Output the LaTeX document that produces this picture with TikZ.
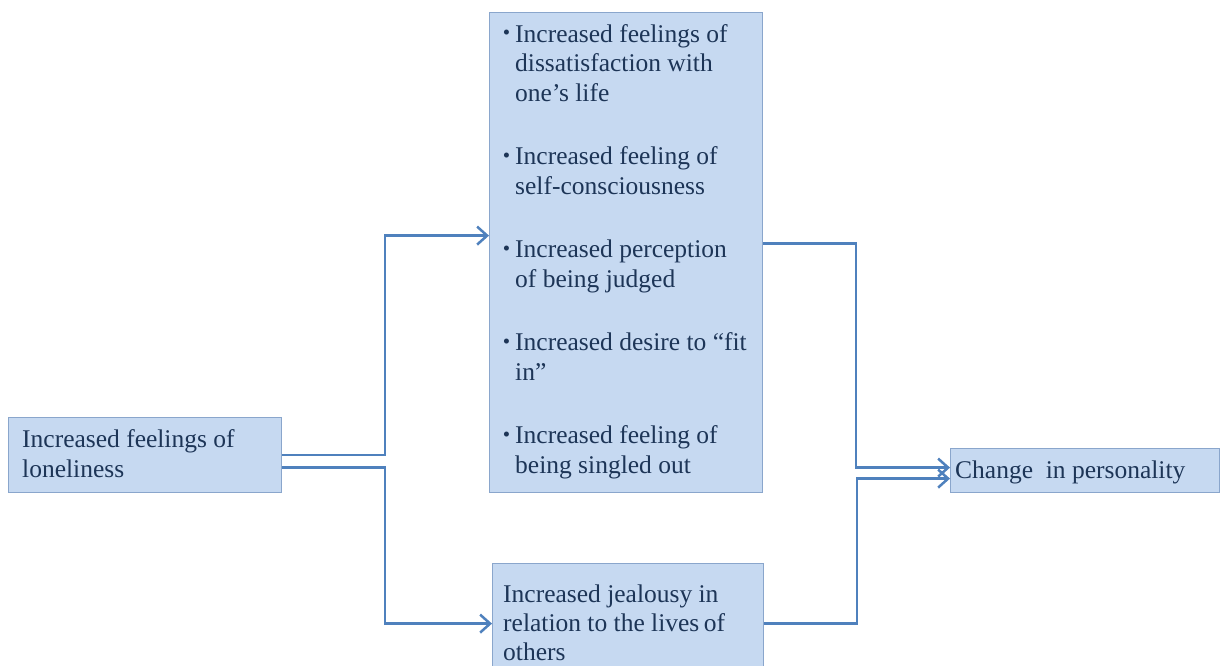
\documentclass[tikz,border=0pt]{standalone}
\usepackage{fontspec}
\setmainfont{Liberation Serif}
\usetikzlibrary{arrows.meta,calc}
\definecolor{boxfill}{HTML}{C6D9F1}
\definecolor{boxline}{HTML}{8AA6CC}
\definecolor{linkcol}{HTML}{4F81BD}
\definecolor{inkcol}{HTML}{1D3557}
\newcommand{\bul}{\leavevmode\llap{\raisebox{2.5pt}{\fontsize{21}{21}\selectfont •}\hspace{5pt}}}
\begin{document}
\begin{tikzpicture}[x=1pt,y=-1pt,
  box/.style={draw=boxline,line width=1.2pt,fill=boxfill,rectangle,inner sep=0pt,anchor=north west},
  txt/.style={inner sep=0pt,anchor=base west,text=inkcol},
  conn/.style={draw=linkcol,line width=2.5pt,-{Straight Barb[length=10pt,width=18pt,line width=2.5pt]}}]
\useasboundingbox (0,0) rectangle (1221,665);
\fill[white] (0,0) rectangle (1221,665);
\clip (0,0) rectangle (1221,665);

% boxes
\node[box,minimum width=273pt,minimum height=75pt] (lone) at (8,417) {};
\node[box,minimum width=273pt,minimum height=480pt] (mid) at (489,12) {};
\node[box,minimum width=271pt,minimum height=120pt] (low) at (492,563) {};
\node[box,minimum width=269pt,minimum height=44pt] (out) at (950,448) {};

% texts
\node[txt] (lonetext) at (22,447) {\parbox[t]{258pt}{\fontsize{25.5}{30}\selectfont
  Increased feelings\ of\\loneliness}};
\node[txt] (midtext) at (515,42) {\parbox[t]{245pt}{\fontsize{25.5}{29.5}\selectfont
  \bul Increased feelings of\\dissatisfaction with\\one’s life\\[34pt]
  \bul Increased feeling of\\self-consciousness\\[34pt]
  \bul Increased perception\\of being judged\\[34pt]
  \bul Increased desire to “fit\\in”\\[34pt]
  \bul Increased feeling of\\being singled out}};
\node[txt] (lowtext) at (503,602) {\parbox[t]{258pt}{\fontsize{25.5}{29}\selectfont
  Increased jealousy in\\relation to the lives\hspace{-2pt} of\\others}};
\node[txt] (outtext) at (955,478) {\fontsize{25.5}{29}\selectfont Change\ \ in personality};

% connectors
\draw[conn] (lone.east) -- ++(103,0) |- ([yshift=17pt]mid.west);
\draw[conn] ([yshift=-12.5pt]lone.east) -- ++(103,0) |- (low.west);
\draw[conn] ([yshift=9pt]mid.east) -- ++(93,0) |- ([yshift=3pt]out.west);
\draw[conn] (low.east) -- ++(93,0) |- ([yshift=-8pt]out.west);
\end{tikzpicture}
\end{document}
